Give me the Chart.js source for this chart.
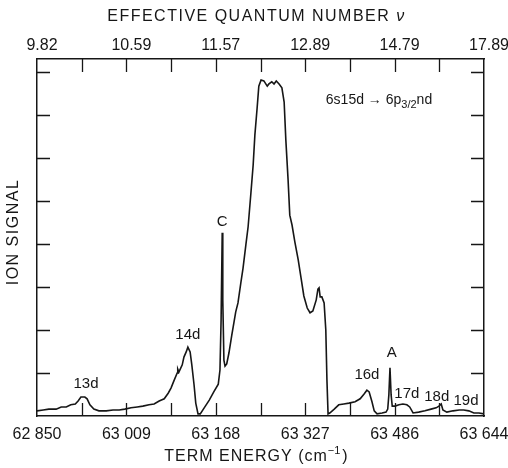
<!DOCTYPE html>
<html>
<head>
<meta charset="utf-8">
<script src="https://cdn.jsdelivr.net/npm/chart.js@4.4.1/dist/chart.umd.min.js"></script>
<style>
  html, body { margin: 0; padding: 0; background: #fff; }
  canvas { display: block; }
</style>
</head>
<body>
<canvas id="chart" width="508" height="468"></canvas>
<script>
// term energy (cm-1) and ion signal (arb. units, one unit per tick)
const energy = [
  62850, 62861, 62871, 62884, 62893, 62902, 62910, 62918, 62923, 62928,
  62935, 62939, 62944, 62951, 62960, 62973, 62985, 62996, 63006, 63017,
  63028, 63038, 63049, 63058, 63067, 63076, 63083, 63088, 63093, 63099,
  63100, 63102, 63108, 63111, 63115, 63118, 63122, 63125, 63129, 63132,
  63136, 63140, 63147, 63156, 63164, 63172, 63175, 63177, 63179, 63180,
  63182, 63184, 63187, 63191, 63196, 63200, 63203, 63207, 63212, 63216,
  63221, 63225, 63230, 63234, 63237, 63241, 63244, 63248, 63253, 63259,
  63262, 63267, 63271, 63275, 63280, 63285, 63289, 63292, 63296, 63299,
  63303, 63308, 63314, 63319, 63324, 63330, 63335, 63340, 63346, 63349,
  63351, 63353, 63356, 63360, 63363, 63365, 63367, 63370, 63378, 63386,
  63395, 63404, 63415, 63424, 63431, 63436, 63440, 63445, 63449, 63454,
  63463, 63470, 63473, 63475, 63477, 63479, 63481, 63486, 63493, 63500,
  63507, 63512, 63518, 63528, 63539, 63550, 63559, 63564, 63568, 63571,
  63578, 63589, 63600, 63608, 63617, 63626, 63635, 63644
];
const signal = [
  0.12, 0.14, 0.16, 0.16, 0.21, 0.21, 0.26, 0.28, 0.35, 0.44,
  0.44, 0.40, 0.26, 0.16, 0.12, 0.12, 0.14, 0.14, 0.16, 0.19,
  0.21, 0.23, 0.26, 0.28, 0.35, 0.40, 0.53, 0.65, 0.81, 1.00,
  1.09, 1.02, 1.19, 1.37, 1.49, 1.60, 1.49, 1.19, 0.72, 0.30,
  0.05, 0.05, 0.19, 0.37, 0.56, 0.74, 1.07, 2.23, 4.26, 2.70,
  1.30, 1.16, 1.21, 1.47, 1.88, 2.19, 2.42, 2.63, 3.09, 3.44,
  3.98, 4.40, 5.19, 5.84, 6.53, 7.16, 7.67, 7.81, 7.79, 7.67,
  7.72, 7.77, 7.72, 7.79, 7.72, 7.63, 7.30, 6.42, 5.49, 4.67,
  4.44, 4.05, 3.63, 3.21, 2.79, 2.51, 2.40, 2.44, 2.70, 2.95,
  2.98, 2.77, 2.77, 2.63, 2.00, 0.84, 0.05, 0.07, 0.16, 0.26,
  0.28, 0.30, 0.33, 0.40, 0.51, 0.60, 0.56, 0.33, 0.12, 0.05,
  0.07, 0.09, 0.16, 0.49, 1.12, 0.49, 0.23, 0.23, 0.26, 0.28,
  0.26, 0.21, 0.07, 0.09, 0.12, 0.16, 0.19, 0.23, 0.28, 0.14,
  0.09, 0.12, 0.14, 0.14, 0.12, 0.07, 0.07, 0.05
];

// axis ticks: bottom in cm-1, top is the effective quantum number at the same places
const energyTicks = [62850, 62929.4, 63008.8, 63088.2, 63167.6, 63247, 63326.4, 63405.8, 63485.2, 63564.6, 63644];
const energyLabels = ["62 850", "", "63 009", "", "63 168", "", "63 327", "", "63 486", "", "63 644"];
const nuLabels = ["9.82", "", "10.59", "", "11.57", "", "12.89", "", "14.79", "", "17.89"];
const signalTicks = [1, 2, 3, 4, 5, 6, 7, 8];

// peak names and where they sit (energy, signal)
const peakNames = ["13d", "14d", "C", "16d", "A", "17d", "18d", "19d"];
const peakEnergy = [62937, 63118, 63179, 63436, 63480, 63507, 63560, 63612];
const peakHeight = [0.74, 1.88, 4.51, 0.95, 1.47, 0.51, 0.44, 0.35];

const INK = "#161616";
const FONT = "'Liberation Sans', Arial, Helvetica, sans-serif";
const TICK = 13;

function spaced(ctx, text, x, y, spacing) {
  ctx.letterSpacing = spacing;
  ctx.fillText(text, x, y);
  ctx.letterSpacing = "0px";
}

const paperLook = {
  id: "paperLook",
  afterDatasetsDraw(chart) {
    const { ctx, scales } = chart;
    ctx.save();
    ctx.fillStyle = INK;
    ctx.font = `15px ${FONT}`;
    ctx.textAlign = "center";
    ctx.textBaseline = "middle";
    peakNames.forEach((name, i) => {
      ctx.fillText(name, scales.x.getPixelForValue(peakEnergy[i]), scales.y.getPixelForValue(peakHeight[i]));
    });

    // 6s15d -> 6p3/2 nd
    let x = scales.x.getPixelForValue(63363);
    const y = scales.y.getPixelForValue(7.35);
    ctx.textAlign = "left";
    ctx.font = `14px ${FONT}`;
    const a = "6s15d \u2192 6p";
    ctx.fillText(a, x, y);
    x += ctx.measureText(a).width;
    ctx.font = `11px ${FONT}`;
    ctx.fillText("3/2", x, y + 5);
    x += ctx.measureText("3/2").width;
    ctx.font = `14px ${FONT}`;
    ctx.fillText("nd", x, y);
    ctx.restore();
  },
  afterDraw(chart) {
    const { ctx, chartArea: area, scales } = chart;
    ctx.save();
    // inward tick marks on all four sides
    ctx.strokeStyle = INK;
    ctx.lineWidth = 1.3;
    ctx.beginPath();
    energyTicks.slice(1, -1).forEach(t => {
      const px = Math.round(scales.x.getPixelForValue(t)) + 0.5;
      ctx.moveTo(px, area.bottom);
      ctx.lineTo(px, area.bottom - TICK);
      ctx.moveTo(px, area.top);
      ctx.lineTo(px, area.top + TICK);
    });
    signalTicks.forEach(t => {
      const py = Math.round(scales.y.getPixelForValue(t)) + 0.5;
      ctx.moveTo(area.left, py);
      ctx.lineTo(area.left + TICK, py);
      ctx.moveTo(area.right, py);
      ctx.lineTo(area.right - TICK, py);
    });
    ctx.stroke();

    // axis titles, letter-spaced like the typeset original
    ctx.fillStyle = INK;
    ctx.textBaseline = "middle";
    ctx.font = `16px ${FONT}`;
    const cx = (area.left + area.right) / 2 - 4;

    const top = "EFFECTIVE QUANTUM NUMBER ";
    ctx.letterSpacing = "1.5px";
    const wTop = ctx.measureText(top).width;
    ctx.font = `italic 16px ${FONT}`;
    const wNu = ctx.measureText("\u03bd").width;
    ctx.font = `16px ${FONT}`;
    ctx.textAlign = "left";
    let tx = cx - (wTop + wNu) / 2;
    spaced(ctx, top, tx, 17, "1.5px");
    ctx.font = `italic 16px ${FONT}`;
    ctx.fillText("\u03bd", tx + wTop, 17);

    ctx.font = `16px ${FONT}`;
    ctx.letterSpacing = "1px";
    const b1 = "TERM ENERGY (cm";
    const w1 = ctx.measureText(b1).width;
    ctx.font = `11px ${FONT}`;
    const w2 = ctx.measureText("\u22121").width;
    ctx.font = `16px ${FONT}`;
    const w3 = ctx.measureText(")").width;
    ctx.letterSpacing = "0px";
    tx = cx - (w1 + w2 + w3) / 2;
    spaced(ctx, b1, tx, 457, "1px");
    ctx.font = `11px ${FONT}`;
    ctx.fillText("\u22121", tx + w1, 451);
    ctx.font = `16px ${FONT}`;
    ctx.fillText(")", tx + w1 + w2, 457);

    ctx.translate(14, 232);
    ctx.rotate(-Math.PI / 2);
    ctx.textAlign = "center";
    spaced(ctx, "ION SIGNAL", 0, 0, "1.5px");
    ctx.restore();
  }
};

const tickFont = { family: FONT, size: 16 };
const plainGrid = { display: false, drawTicks: false };
const frame = { display: true, color: INK, width: 1.5 };

function fitX(height) {
  return s => {
    s.height = height;
    // end labels may hang over the frame, like the original
    s.paddingLeft = 0;
    s.paddingRight = 0;
  };
}

new Chart(document.getElementById("chart"), {
  type: "line",
  data: {
    datasets: [{
      data: energy.map((e, i) => ({ x: e, y: signal[i] })),
      borderColor: INK,
      borderWidth: 1.6,
      pointRadius: 0,
      tension: 0,
      fill: false,
    }],
  },
  options: {
    responsive: false,
    animation: false,
    plugins: { legend: { display: false }, tooltip: { enabled: false } },
    layout: { padding: 0 },
    scales: {
      x: {
        type: "linear", position: "bottom", min: 62850, max: 63644,
        afterBuildTicks: s => { s.ticks = energyTicks.map(v => ({ value: v })); },
        afterFit: fitX(52),
        grid: plainGrid, border: frame,
        ticks: { autoSkip: false, maxRotation: 0, padding: 9.4, color: INK, font: tickFont,
                 callback: (v, i) => energyLabels[i] },
      },
      x2: {
        type: "linear", position: "top", min: 62850, max: 63644,
        afterBuildTicks: s => { s.ticks = energyTicks.map(v => ({ value: v })); },
        afterFit: fitX(59),
        grid: plainGrid, border: frame,
        ticks: { autoSkip: false, maxRotation: 0, padding: 3.4, labelOffset: 5, color: INK, font: tickFont,
                 callback: (v, i) => nuLabels[i] },
      },
      y: {
        position: "left", min: 0, max: 8.3,
        afterFit: s => { s.width = 37; },
        grid: plainGrid, border: frame, ticks: { display: false },
      },
      y2: {
        position: "right", min: 0, max: 8.3,
        afterFit: s => { s.width = 24; },
        grid: plainGrid, border: frame, ticks: { display: false },
      },
    },
  },
  plugins: [paperLook],
});
</script>
</body>
</html>
